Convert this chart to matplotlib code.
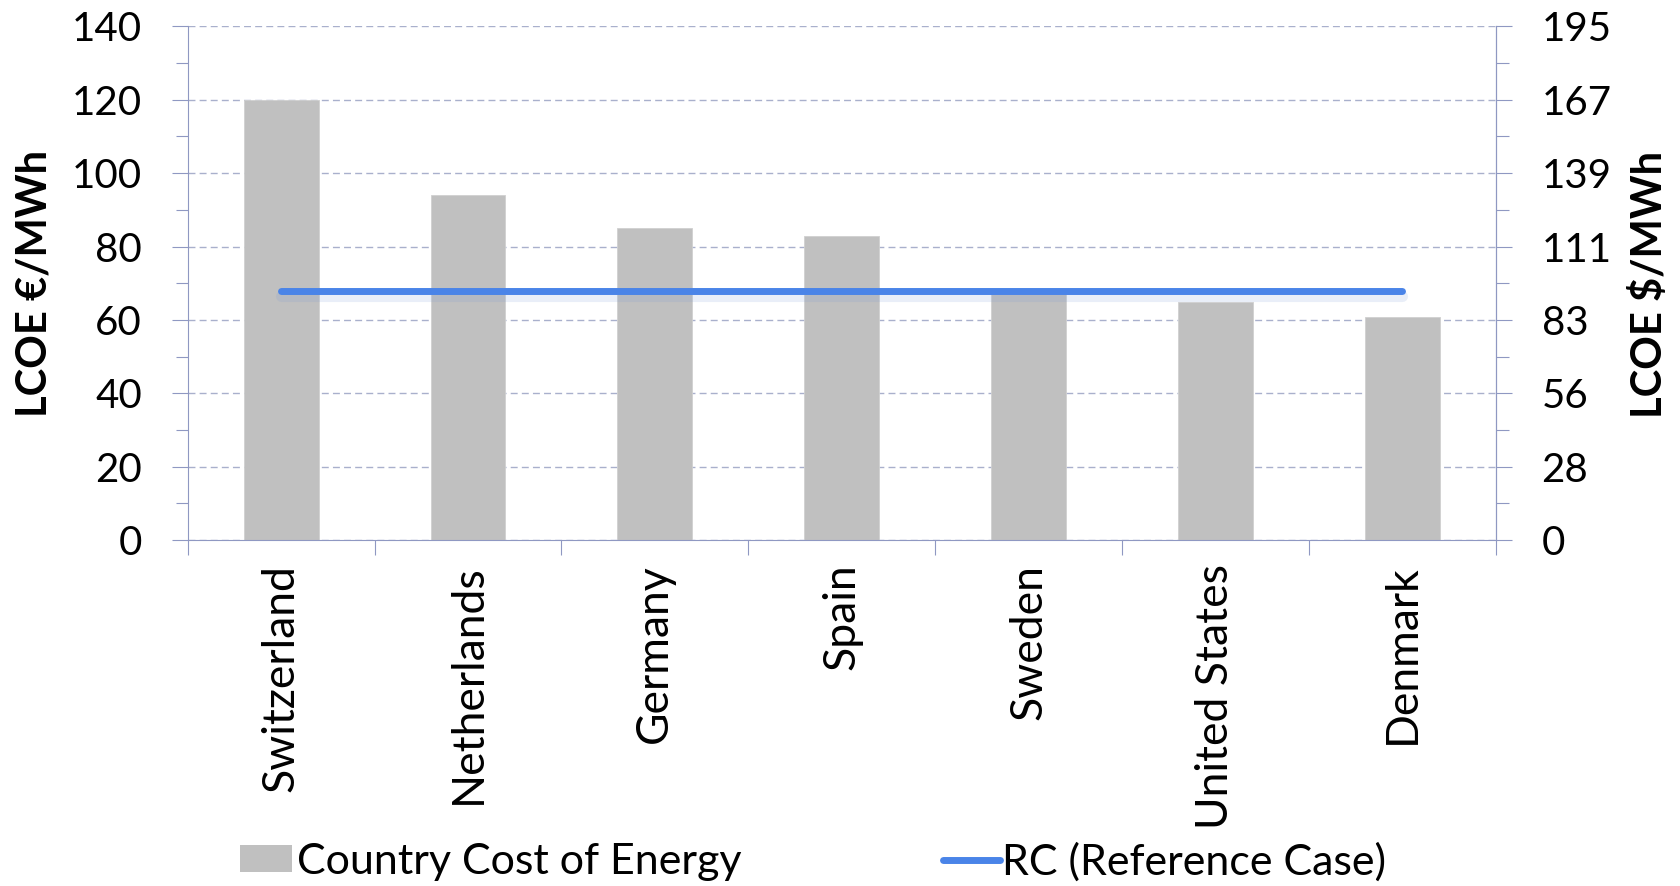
import matplotlib
matplotlib.use("Agg")
import matplotlib.pyplot as plt
import matplotlib.patheffects as pe
from matplotlib.lines import Line2D
from matplotlib.patches import Patch
import numpy as np

# ---- data ----
countries = ["Switzerland", "Netherlands", "Germany", "Spain", "Sweden",
             "United States", "Denmark"]
country_cost = [120, 94, 85, 83, 67, 65, 60.7]
reference_case = [68, 68, 68, 68, 68, 68, 68]
eur_ticks = [0, 20, 40, 60, 80, 100, 120, 140]
usd_per_eur = 1.39
bar_label = "Country Cost of Energy"
line_label = "RC (Reference Case)"

plt.rcParams['font.family'] = ['Lato', 'DejaVu Sans']

fig = plt.figure(figsize=(16.8, 8.86), dpi=100)
ax = fig.add_axes([0.11173, 0.39029, 0.77857, 0.58003])

axis_col = '#8f98c2'
grid_col = '#a9b0cc'
bar_col = '#c0c0c0'
line_col = '#4a84e8'

x = np.arange(len(countries))
ax.bar(x, country_cost, width=0.40, color=bar_col, edgecolor='#d0d0d0',
       linewidth=0.6, zorder=2)
ax.plot(x, reference_case, color=line_col, lw=5, solid_capstyle='round', zorder=4,
        path_effects=[pe.SimpleLineShadow(offset=(0, -4), shadow_color='#7a9ad6',
                                          alpha=0.16, linewidth=8),
                      pe.Normal()])

ax.set_xlim(-0.5, len(countries) - 0.5)
ax.set_ylim(eur_ticks[0], eur_ticks[-1])

# y axis (left)
ax.set_yticks(eur_ticks)
ax.set_yticks(np.array(eur_ticks[:-1]) + 10, minor=True)
ax.tick_params(axis='y', which='major', direction='out', length=11.5, width=0.8,
               color=axis_col, labelsize=29, pad=21.5)
ax.tick_params(axis='y', which='minor', direction='out', length=9, width=0.8,
               color=axis_col)
ax.yaxis.grid(True, which='major', color=grid_col, linestyle=(0, (5, 3)), lw=1,
              zorder=0)
ax.set_axisbelow(True)

# x axis
ax.set_xticks(np.arange(len(countries) + 1) - 0.5)
ax.set_xticklabels([])
ax.set_xticks(x, minor=True)
ax.set_xticklabels(countries, minor=True, rotation=90, fontsize=32)
ax.tick_params(axis='x', which='major', direction='out', length=11, width=0.8,
               color=axis_col)
ax.tick_params(axis='x', which='minor', length=0, pad=17)

for s in ['top']:
    ax.spines[s].set_visible(False)
for s in ['left', 'right', 'bottom']:
    ax.spines[s].set_color(axis_col)
    ax.spines[s].set_linewidth(0.8)

# right axis ($)
ax2 = ax.twinx()
ax2.set_ylim(eur_ticks[0] * usd_per_eur, eur_ticks[-1] * usd_per_eur)
usd_ticks = np.array(eur_ticks) * usd_per_eur
ax2.set_yticks(usd_ticks)
ax2.set_yticklabels([f"{v:.0f}" for v in usd_ticks])
ax2.set_yticks((np.array(eur_ticks[:-1]) + 10) * usd_per_eur, minor=True)
ax2.tick_params(axis='y', which='major', direction='out', length=11.5, width=0.8,
                color=axis_col, labelsize=29, pad=21.5)
ax2.tick_params(axis='y', which='minor', direction='out', length=9, width=0.8,
                color=axis_col)
for s in ['top', 'left', 'bottom']:
    ax2.spines[s].set_visible(False)
ax2.spines['right'].set_color(axis_col)
ax2.spines['right'].set_linewidth(0.8)

# axis titles
fig.text(0.0208, 0.6806, "LCOE €/MWh", rotation=90, ha='center', va='center',
         fontsize=30, fontweight='bold')
fig.text(0.9821, 0.679, "LCOE $/MWh", rotation=90, ha='center', va='center',
         fontsize=30, fontweight='bold')

# legends
h1 = Patch(facecolor=bar_col, edgecolor='none')
leg1 = ax.legend([h1], [bar_label], loc='center left',
                 bbox_to_anchor=(240 / 1680, 0.0271), bbox_transform=fig.transFigure,
                 frameon=False, fontsize=31, borderpad=0, borderaxespad=0,
                 handlelength=1.2, handleheight=0.6, handletextpad=0.13)
ax.add_artist(leg1)
h2 = Line2D([0], [0], color=line_col, lw=5, solid_capstyle='round')
ax.legend([h2], [line_label], loc='center left',
          bbox_to_anchor=(943 / 1680, 0.0271), bbox_transform=fig.transFigure,
          frameon=False, fontsize=31, borderpad=0, borderaxespad=0,
          handlelength=1.32, handletextpad=0.05)

fig.savefig("out.png", dpi=100)
